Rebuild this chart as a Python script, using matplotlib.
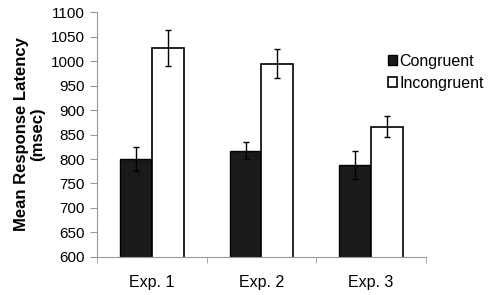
import numpy as np
import matplotlib.pyplot as plt

plt.rcParams['font.family'] = ['Liberation Sans', 'DejaVu Sans']

# data
experiments = ['Exp. 1', 'Exp. 2', 'Exp. 3']
congruent = [800, 817, 788]
congruent_err = [25, 18, 29]
incongruent = [1027, 995, 866]
incongruent_err = [37, 29, 22]

fig = plt.figure(figsize=(4.9, 2.95), dpi=100)
ax = fig.add_axes([0.198, 0.129, 0.671, 0.83])

x = np.arange(len(experiments))
w = 0.29
ax.bar(x - w / 2, congruent, w, color='#1a1a1a', edgecolor='black', linewidth=1,
       yerr=congruent_err, error_kw=dict(ecolor='black', capsize=2, elinewidth=1), label='Congruent')
ax.bar(x + w / 2, incongruent, w, color='white', edgecolor='black', linewidth=1.2,
       yerr=incongruent_err, error_kw=dict(ecolor='black', capsize=2, elinewidth=1), label='Incongruent')

ax.set_ylim(600, 1100)
ax.set_yticks(np.arange(600, 1101, 50))
ax.set_xlim(-0.5, 2.5)
ax.set_xticks(x)
ax.set_xticklabels(experiments)
ax.set_xticks([-0.5, 0.5, 1.5, 2.5], minor=True)
ax.tick_params(axis='x', which='major', length=0, pad=13, labelsize=11.5)
ax.tick_params(axis='x', which='minor', length=4, color='#999999', direction='out')
ax.tick_params(axis='y', length=5, color='#999999', labelsize=11, pad=4)

for s in ['top', 'right']:
    ax.spines[s].set_visible(False)
for s in ['left', 'bottom']:
    ax.spines[s].set_color('#999999')

ax.set_ylabel('Mean Response Latency\n(msec)', fontsize=12, fontweight='bold', labelpad=4,
              linespacing=1.1)

fig.legend(loc='upper left', bbox_to_anchor=(0.775, 0.845), frameon=False, fontsize=11.5,
           handlelength=0.6, handleheight=0.6, handletextpad=0.15, labelspacing=0.45, borderpad=0)

fig.savefig('out.png', dpi=100)
